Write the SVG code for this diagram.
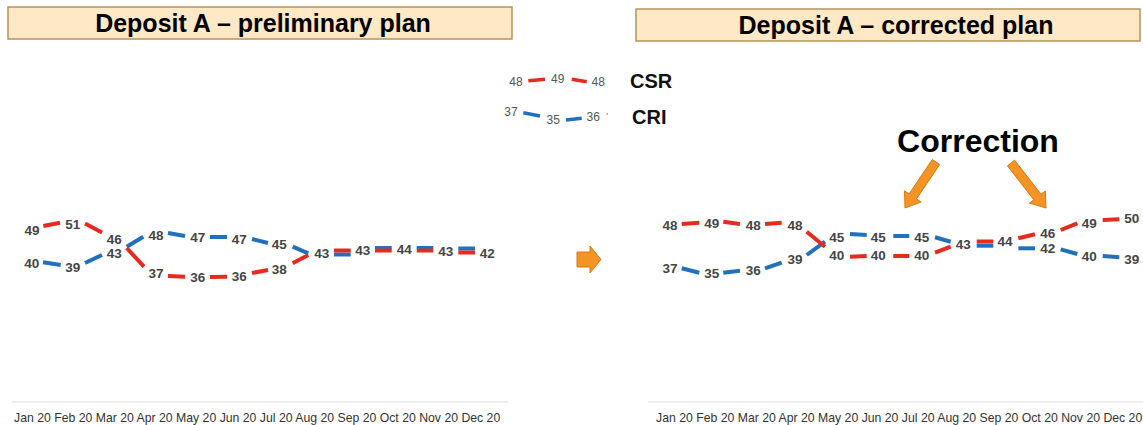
<svg xmlns="http://www.w3.org/2000/svg" width="1143" height="425" viewBox="0 0 1143 425">
<style>
.title{font-family:"Liberation Sans",Arial,sans-serif;font-weight:bold;font-size:25px;fill:#000;text-anchor:middle}
.box{fill:#FEE8C6;stroke:#B89258;stroke-width:1.5}
.lbl{font-family:"Liberation Sans",Arial,sans-serif;font-weight:bold;font-size:13.5px;fill:#454545;text-anchor:middle}
.leg{font-family:"Liberation Sans",Arial,sans-serif;font-size:12px;fill:#555;text-anchor:middle}
.legt{font-family:"Liberation Sans",Arial,sans-serif;font-weight:bold;font-size:20px;fill:#111}
.mon{font-family:"Liberation Sans",Arial,sans-serif;font-size:12.25px;fill:#333}
.axis{stroke:#D9D9D9;stroke-width:1}
.r{stroke:#E62A1E;stroke-width:4;fill:none}
.b{stroke:#2170BC;stroke-width:4;fill:none}
.rt{stroke:#E62A1E;stroke-width:3.5;fill:none}
.bt{stroke:#2170BC;stroke-width:3.5;fill:none}
.arrow{fill:#F39424;stroke:#DA7812;stroke-width:1}
.big{font-family:"Liberation Sans",Arial,sans-serif;font-weight:bold;font-size:32px;fill:#000;text-anchor:middle}
</style>
<rect width="1143" height="425" fill="#fff"/>

<g id="title-left">
<rect class="box" x="8" y="7" width="504" height="32"/>
<text class="title" x="263" y="32">Deposit A – preliminary plan</text>
</g>
<g id="title-right">
<rect class="box" x="636" y="9" width="504" height="32"/>
<text class="title" x="896" y="34">Deposit A – corrected plan</text>
</g>

<g id="legend">
<line class="rt" x1="528.3" y1="80.7" x2="545" y2="79.3"/>
<line class="rt" x1="571.7" y1="79.3" x2="586.7" y2="81.7"/>
<line class="bt" x1="523.3" y1="112.7" x2="540" y2="116"/>
<line class="bt" x1="566" y1="120" x2="581.7" y2="118.3"/>
<text class="leg" x="516" y="86">48</text>
<text class="leg" x="557.7" y="82.5">49</text>
<text class="leg" x="598.3" y="86">48</text>
<text class="leg" x="511" y="116">37</text>
<text class="leg" x="553.3" y="124">35</text>
<text class="leg" x="593.3" y="121">36</text>
<text class="leg" x="607" y="119" style="font-size:9px">'</text>
<text class="legt" x="630" y="88">CSR</text>
<text class="legt" x="632" y="124">CRI</text>
</g>

<g id="axis-left">
<line class="axis" x1="12" y1="402" x2="508" y2="402"/>
<text class="mon" x="14" y="422">Jan 20 Feb 20 Mar 20 Apr 20 May 20 Jun 20 Jul 20 Aug 20 Sep 20 Oct 20 Nov 20 Dec 20</text>
</g>
<g id="axis-right">
<line class="axis" x1="648" y1="402" x2="1143" y2="402"/>
<text class="mon" x="656" y="422">Jan 20 Feb 20 Mar 20 Apr 20 May 20 Jun 20 Jul 20 Aug 20 Sep 20 Oct 20 Nov 20 Dec 20</text>
</g>

<g id="connectors">
<!-- left chart blue (CRI) -->
<line class="b" x1="43" y1="262.3" x2="60.7" y2="265"/>
<line class="b" x1="85" y1="263" x2="102" y2="255"/>
<line class="b" x1="126.7" y1="246.7" x2="143.3" y2="236.7"/>
<line class="b" x1="168" y1="233" x2="185" y2="236"/>
<line class="b" x1="210" y1="237" x2="227" y2="237"/>
<line class="b" x1="252" y1="239" x2="268" y2="243"/>
<line class="b" x1="292.7" y1="246.7" x2="308.3" y2="253.3"/>
<line class="b" x1="334" y1="254.5" x2="350.7" y2="254.5"/>
<line class="b" x1="375" y1="247.5" x2="391.7" y2="247.5" style="stroke-width:3"/>
<line class="b" x1="416.7" y1="247.5" x2="433.3" y2="247.5" style="stroke-width:3"/>
<line class="b" x1="458.3" y1="248.5" x2="475" y2="248.5"/>
<!-- left chart red (CSR) -->
<line class="r" x1="43.3" y1="226" x2="60" y2="222.7"/>
<line class="r" x1="85" y1="223.5" x2="102" y2="232.5"/>
<line class="r" x1="126.7" y1="248" x2="144" y2="266.7"/>
<line class="r" x1="168" y1="276" x2="185" y2="276.7"/>
<line class="r" x1="210" y1="277" x2="227" y2="276.7"/>
<line class="r" x1="252" y1="273" x2="268" y2="270"/>
<line class="r" x1="292.7" y1="263.3" x2="308.3" y2="255"/>
<line class="r" x1="334" y1="250.5" x2="350.7" y2="250.5"/>
<line class="r" x1="375" y1="250.5" x2="391.7" y2="250.5"/>
<line class="r" x1="416.7" y1="250.5" x2="433.3" y2="250.5"/>
<line class="r" x1="458.3" y1="252.5" x2="475" y2="252.5"/>
<!-- right chart blue (CRI) -->
<line class="b" x1="681.7" y1="268.3" x2="699.3" y2="272.7"/>
<line class="b" x1="723.3" y1="272.7" x2="740" y2="270.7"/>
<line class="b" x1="765" y1="268.3" x2="781.7" y2="262.7"/>
<line class="b" x1="806.7" y1="255" x2="825" y2="241.7"/>
<line class="b" x1="850" y1="234" x2="866.7" y2="235"/>
<line class="b" x1="893.3" y1="236" x2="909.3" y2="236"/>
<line class="b" x1="935" y1="237.3" x2="950.7" y2="241.7"/>
<line class="b" x1="976.7" y1="245.7" x2="993.3" y2="245.7"/>
<line class="b" x1="1018.3" y1="248.3" x2="1035" y2="248.3"/>
<line class="b" x1="1060.7" y1="249.3" x2="1077.3" y2="254"/>
<line class="b" x1="1102.7" y1="256" x2="1119.3" y2="257.3"/>
<!-- right chart red (CSR) -->
<line class="r" x1="681.7" y1="224" x2="699.3" y2="222.7"/>
<line class="r" x1="723.3" y1="221.7" x2="740" y2="224"/>
<line class="r" x1="765" y1="224" x2="781.7" y2="222.7"/>
<line class="r" x1="806.7" y1="231.7" x2="825" y2="246.7"/>
<line class="r" x1="850" y1="256.7" x2="866.7" y2="256"/>
<line class="r" x1="893.3" y1="256" x2="909.3" y2="256"/>
<line class="r" x1="935" y1="252.7" x2="950.7" y2="246.7"/>
<line class="r" x1="976.7" y1="241.5" x2="993.3" y2="241.5"/>
<line class="r" x1="1018.3" y1="238.3" x2="1035" y2="234.3"/>
<line class="r" x1="1060.7" y1="230" x2="1077.3" y2="223.3"/>
<line class="r" x1="1102.7" y1="220" x2="1119.3" y2="219.3"/>
</g>

<g id="labels-left">
<text class="lbl" x="31.7" y="267.5">40</text>
<text class="lbl" x="72.7" y="271.5">39</text>
<text class="lbl" x="114.3" y="258">43</text>
<text class="lbl" x="156" y="240">48</text>
<text class="lbl" x="197.7" y="242">47</text>
<text class="lbl" x="239.3" y="244">47</text>
<text class="lbl" x="279.3" y="249">45</text>
<text class="lbl" x="32" y="235">49</text>
<text class="lbl" x="72.7" y="229">51</text>
<text class="lbl" x="114.3" y="244">46</text>
<text class="lbl" x="156" y="277.5">37</text>
<text class="lbl" x="197.7" y="281.5">36</text>
<text class="lbl" x="239.3" y="281">36</text>
<text class="lbl" x="279.3" y="274">38</text>
<text class="lbl" x="321.7" y="257.5">43</text>
<text class="lbl" x="362.7" y="255">43</text>
<text class="lbl" x="404.3" y="254">44</text>
<text class="lbl" x="445.7" y="255.5">43</text>
<text class="lbl" x="487.3" y="257.5">42</text>
</g>

<g id="labels-right">
<text class="lbl" x="670" y="230">48</text>
<text class="lbl" x="711.7" y="227.5">49</text>
<text class="lbl" x="753.3" y="230">48</text>
<text class="lbl" x="795" y="230">48</text>
<text class="lbl" x="836.7" y="260">40</text>
<text class="lbl" x="878.3" y="260">40</text>
<text class="lbl" x="921.7" y="260">40</text>
<text class="lbl" x="963.3" y="249">43</text>
<text class="lbl" x="1005" y="246">44</text>
<text class="lbl" x="1047.7" y="237.5">46</text>
<text class="lbl" x="1089.3" y="227.5">49</text>
<text class="lbl" x="1131.7" y="223">50</text>
<text class="lbl" x="670" y="272.5">37</text>
<text class="lbl" x="711.7" y="278">35</text>
<text class="lbl" x="753.3" y="275">36</text>
<text class="lbl" x="795" y="264">39</text>
<text class="lbl" x="836.7" y="241.5">45</text>
<text class="lbl" x="878.3" y="241.5">45</text>
<text class="lbl" x="921.7" y="242">45</text>
<text class="lbl" x="1047.7" y="253">42</text>
<text class="lbl" x="1089.3" y="261">40</text>
<text class="lbl" x="1131.7" y="264">39</text>
</g>

<g id="arrow-next">
<polygon class="arrow" points="577,252 590,252 590,246 601,259.5 590,273 590,267 577,267"/>
</g>

<g id="correction">
<text class="big" x="978" y="152">Correction</text>
<polygon class="arrow" points="939.7,164.5 916.5,198.9 921.1,202 905,208 904.5,190.8 909.1,193.9 932.3,159.5"/>
<polygon class="arrow" points="1007.4,165.8 1033.8,199.8 1029.5,203.1 1046,208 1045.3,190.9 1041,194.2 1014.6,160.2"/>
</g>
</svg>
